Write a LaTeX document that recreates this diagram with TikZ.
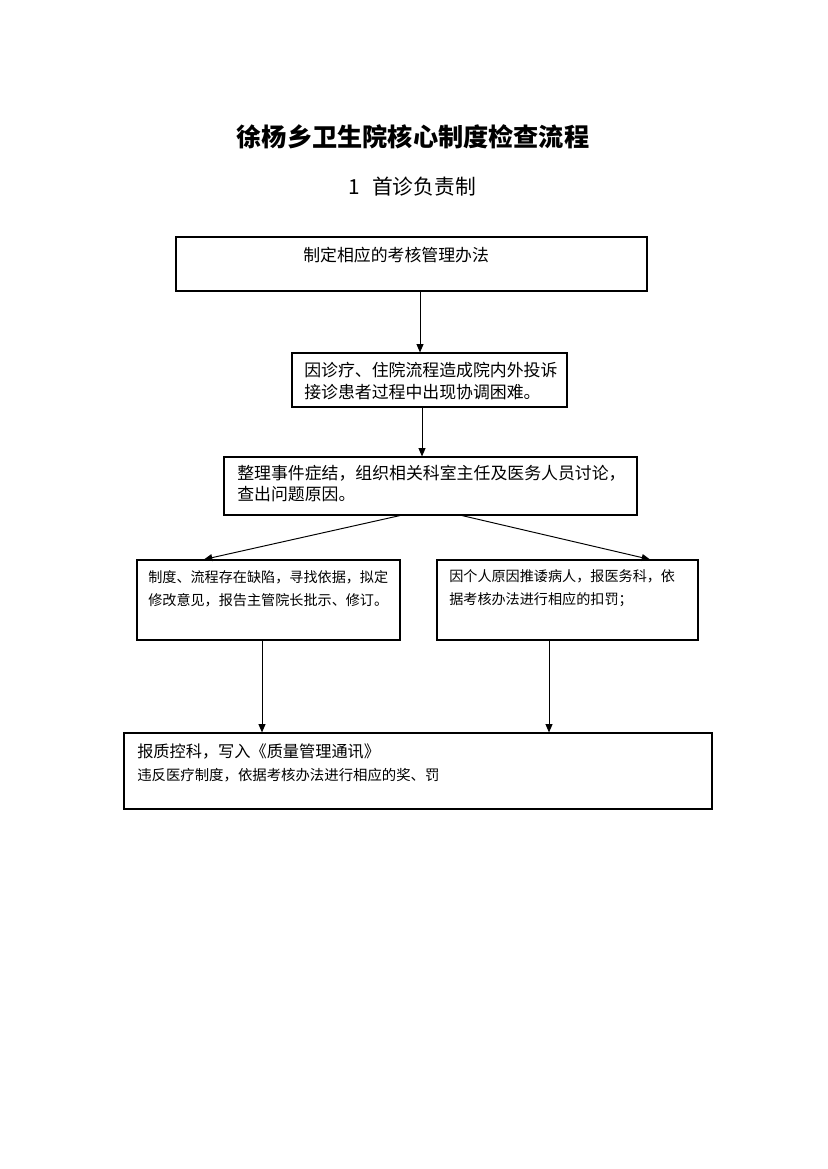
\documentclass[tikz,border=0pt]{standalone}
\usepackage{fontspec}
\setmainfont{Noto Sans CJK SC}
\usetikzlibrary{arrows.meta}
\tikzset{box/.style={draw,line width=0.8pt,inner sep=0pt},
  txt/.style={anchor=west,inner sep=0pt,align=left},
  arr/.style={-{Triangle[length=6pt,width=5pt]},line width=0.7pt}}
\begin{document}
\begin{tikzpicture}[x=0.254mm,y=-0.254mm,every node/.style={font=\fontsize{12.2}{15.8}\selectfont}]
\useasboundingbox (0,0) rectangle (827,1169);
% titles
\node[font=\fontsize{18.2}{20}\selectfont\bfseries] (title) at (413,137) {徐杨乡卫生院核心制度检查流程};
\node[font=\fontsize{15}{18}\selectfont] (sub) at (412,187) {1\hspace{0.6em}首诊负责制};
% boxes
\node[box,minimum width=471*0.254mm,minimum height=54*0.254mm] (b1) at (411.5,264) {}; \node[txt] (t1) at (303,255) {制定相应的考核管理办法};
\node[box,minimum width=275*0.254mm,minimum height=54*0.254mm] (b2) at (429.5,380) {}; \node[txt] (t2) at (304,381) {因诊疗、住院流程造成院内外投诉\\接诊患者过程中出现协调困难。};
\node[box,minimum width=413*0.254mm,minimum height=58*0.254mm] (b3) at (430.5,486) {}; \node[txt] (t3) at (237,483.5) {整理事件症结，组织相关科室主任及医务人员讨论，\\查出问题原因。};
\node[box,minimum width=263*0.254mm,minimum height=80*0.254mm] (b4) at (268.5,600) {}; \node[txt,font=\fontsize{10.2}{16.6}\selectfont] (t4) at (148,588.5) {制度、流程存在缺陷，寻找依据，拟定\\修改意见，报告主管院长批示、修订。};
\node[box,minimum width=261*0.254mm,minimum height=80*0.254mm] (b5) at (567.5,600) {}; \node[txt,font=\fontsize{10.2}{16.6}\selectfont] (t5) at (449,588.5) {因个人原因推诿病人，报医务科，依\\据考核办法进行相应的扣罚；};
\node[box,minimum width=588*0.254mm,minimum height=76*0.254mm] (b6) at (418,771) {};
\node[txt,font=\fontsize{11.7}{14}\selectfont] (t6) at (137,752) {报质控科，写入《质量管理通讯》}; \node[txt,font=\fontsize{10.4}{14}\selectfont] (t7) at (137,775) {违反医疗制度，依据考核办法进行相应的奖、罚};
% connectors
\draw[arr] (420,0 |- b1.south) -- (420,0 |- b2.north); \draw[arr] (422,0 |- b2.south) -- (422,0 |- b3.north);
\draw[arr] (400,0 |- b3.south) -- (204,0 |- b4.north); \draw[arr] (462,0 |- b3.south) -- (650,0 |- b5.north);
\draw[arr] (262,0 |- b4.south) -- (262,0 |- b6.north); \draw[arr] (549,0 |- b5.south) -- (549,0 |- b6.north);
\end{tikzpicture}
\end{document}
